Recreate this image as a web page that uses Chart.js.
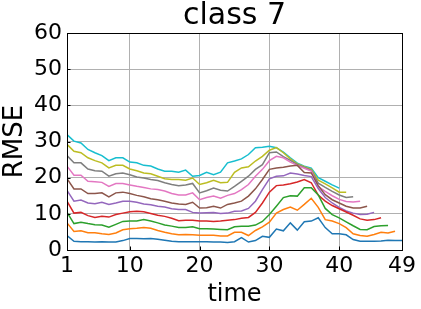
<!DOCTYPE html>
<html>
<head>
<meta charset="utf-8">
<script src="https://cdn.jsdelivr.net/npm/chart.js@4"></script>
<style>
  html, body { margin: 0; padding: 0; background: #fff; }
</style>
</head>
<body>
<canvas id="chart" width="421" height="309"></canvas>
<script>
const xTicks = [1, 10, 20, 30, 40, 49];
const yTicks = [0, 10, 20, 30, 40, 50, 60];

const tab10 = ["#1f77b4", "#ff7f0e", "#2ca02c", "#d62728", "#9467bd",
               "#8c564b", "#e377c2", "#7f7f7f", "#bcbd22", "#17becf"];

// one series per curve, value at time = index + 1
const s0 = [4.0, 2.4, 2.3, 2.3, 2.2, 2.3, 2.2, 2.2, 2.6, 3.2, 3.2, 3.1, 3.2, 3.0, 2.7, 2.4, 2.3, 2.3, 2.3, 2.3,
            2.3, 2.2, 2.2, 2.1, 2.3, 3.4, 2.2, 2.6, 3.8, 3.5, 5.8, 5.3, 7.5, 5.5, 7.8, 8.0, 8.9, 6.2, 4.5, 4.5,
            4.2, 2.9, 2.4, 2.4, 2.4, 2.5, 2.7, 2.6, 2.6];
const s1 = [7.5, 5.1, 5.3, 4.8, 4.8, 4.5, 4.3, 4.7, 5.6, 5.9, 6.0, 6.2, 6.0, 5.4, 4.9, 4.5, 4.2, 4.3, 4.2, 4.1,
            4.1, 4.1, 3.9, 3.9, 4.9, 4.9, 4.0, 5.4, 6.4, 7.7, 10.2, 11.2, 11.9, 11.0, 12.6, 14.3, 11.8, 8.4, 8.0, 7.3,
            6.2, 4.5, 4.0, 3.8, 4.3, 4.9, 4.7, 5.2];
const s2 = [10.4, 7.3, 7.7, 7.3, 7.0, 6.9, 6.3, 7.1, 7.9, 8.0, 8.0, 8.4, 8.0, 7.5, 6.9, 6.6, 6.2, 6.2, 6.4, 5.9,
            5.9, 5.8, 5.7, 5.6, 6.4, 6.6, 6.6, 6.9, 7.9, 9.8, 12.1, 14.5, 15.0, 14.9, 17.2, 17.2, 15.2, 11.5, 9.8, 8.9,
            7.8, 6.7, 5.7, 5.6, 6.5, 6.7, 6.8];
const s3 = [13.5, 10.2, 10.4, 9.5, 9.0, 9.3, 9.1, 9.8, 10.2, 10.6, 10.7, 10.6, 10.1, 9.6, 9.3, 8.8, 8.1, 8.2, 8.2, 8.0,
            8.0, 7.9, 8.0, 8.2, 8.4, 8.8, 9.0, 10.4, 13.0, 16.0, 17.8, 18.0, 18.3, 18.8, 19.5, 18.6, 15.2, 13.5, 12.3, 11.4,
            10.5, 9.6, 8.6, 8.2, 8.4, 8.9];
const s4 = [16.5, 13.5, 13.8, 13.0, 12.8, 13.2, 12.6, 13.0, 13.5, 13.5, 13.2, 12.7, 12.5, 12.1, 11.9, 11.4, 11.2, 11.2, 10.4, 10.2,
            10.3, 10.4, 10.1, 10.2, 10.7, 10.8, 11.5, 13.5, 16.7, 19.7, 20.4, 20.5, 21.3, 21.0, 20.6, 20.3, 17.0, 14.5, 13.0, 11.8,
            10.8, 10.2, 9.8, 9.9, 10.4];
const s5 = [19.7, 16.9, 16.9, 15.6, 15.6, 15.8, 14.7, 15.8, 16.0, 15.6, 15.1, 14.7, 14.2, 13.9, 13.5, 13.0, 12.7, 12.6, 13.2, 11.6,
            11.7, 12.1, 11.6, 12.6, 13.0, 13.5, 14.9, 16.9, 19.5, 22.3, 22.7, 22.9, 23.2, 23.4, 21.4, 21.3, 17.8, 15.3, 13.9, 13.0,
            12.1, 11.6, 11.6, 12.1];
const s6 = [23.2, 20.7, 20.7, 19.0, 18.9, 18.7, 17.6, 18.4, 18.4, 18.0, 17.6, 17.3, 16.9, 16.7, 16.3, 15.6, 15.2, 15.2, 15.8, 13.9,
            14.5, 14.9, 14.3, 15.1, 15.6, 16.7, 18.1, 20.4, 22.3, 24.7, 25.9, 25.5, 24.3, 23.4, 22.6, 21.8, 17.5, 16.2, 15.0, 14.0,
            13.4, 13.3, 13.5];
const s7 = [26.1, 24.1, 24.1, 22.4, 21.9, 21.8, 20.4, 21.1, 21.3, 20.8, 20.2, 19.9, 19.5, 19.2, 18.6, 18.1, 17.8, 18.0, 18.4, 15.8,
            16.4, 17.1, 16.5, 16.3, 17.6, 19.0, 20.4, 22.3, 23.6, 26.9, 27.1, 25.8, 24.8, 23.6, 22.8, 22.0, 18.5, 17.3, 16.2, 15.2,
            14.5, 14.7];
const s8 = [29.2, 27.3, 26.9, 25.5, 24.7, 24.1, 22.7, 23.4, 23.4, 22.4, 21.9, 21.3, 21.1, 20.4, 19.7, 19.5, 19.5, 19.3, 19.9, 18.1,
            18.6, 19.3, 18.6, 18.7, 21.5, 22.7, 23.0, 24.6, 25.9, 27.6, 28.3, 26.9, 25.2, 23.8, 23.0, 22.3, 19.3, 18.3, 17.2, 16.0,
            16.0];
const s9 = [31.9, 30.1, 29.6, 27.8, 26.9, 26.1, 24.7, 25.5, 25.5, 24.3, 24.1, 23.4, 23.2, 22.4, 21.8, 21.8, 21.5, 22.1, 20.4, 20.6,
            21.5, 20.8, 21.5, 24.1, 24.6, 25.2, 26.4, 28.3, 28.4, 28.7, 28.3, 27.1, 25.5, 24.0, 23.2, 22.6, 20.0, 19.0, 18.0, 17.1];

const series = [s0, s1, s2, s3, s4, s5, s6, s7, s8, s9];

const FONT = "'DejaVu Sans', sans-serif";

const framePlugin = {
    id: "frame",
    afterDatasetsDraw(chart) {
        const { ctx, chartArea: a, scales } = chart;
        ctx.save();
        ctx.strokeStyle = "#000";
        ctx.lineWidth = 1;
        // inward ticks on left and bottom
        ctx.beginPath();
        yTicks.forEach((v) => {
            const y = Math.round(scales.y.getPixelForValue(v)) + 0.5;
            ctx.moveTo(a.left, y);
            ctx.lineTo(a.left + 3.5, y);
        });
        xTicks.forEach((v) => {
            const x = Math.round(scales.x.getPixelForValue(v)) + 0.5;
            ctx.moveTo(x, a.bottom);
            ctx.lineTo(x, a.bottom - 3.5);
        });
        ctx.stroke();
        ctx.strokeRect(Math.round(a.left) + 0.5, Math.round(a.top) + 0.5,
                       Math.round(a.right - a.left), Math.round(a.bottom - a.top));
        ctx.restore();
    },
};

new Chart(document.getElementById("chart").getContext("2d"), {
    type: "line",
    data: {
        datasets: series.map((vals, i) => ({
            data: vals.map((v, j) => ({ x: j + 1, y: v })),
            borderColor: tab10[i],
            borderWidth: 1.5,
            pointRadius: 0,
            fill: false,
            tension: 0,
        })),
    },
    options: {
        responsive: false,
        animation: false,
        devicePixelRatio: 1,
        layout: { padding: { top: 0, right: 19, bottom: 0, left: 0 } },
        plugins: {
            legend: { display: false },
            tooltip: { enabled: false },
            title: {
                display: true,
                fullSize: false,
                text: "class 7",
                color: "#000",
                font: { family: FONT, size: 30, weight: "normal", lineHeight: 1.1 },
                padding: { top: 0, bottom: 0 },
            },
        },
        scales: {
            x: {
                type: "linear",
                min: 1,
                max: 49,
                afterBuildTicks: (s) => { s.ticks = xTicks.map((v) => ({ value: v })); },
                afterFit: (s) => { s.height = 59; },
                grid: { color: "#b0b0b0", lineWidth: 1, drawTicks: false },
                border: { display: false },
                ticks: {
                    color: "#000",
                    padding: 3,
                    maxRotation: 0,
                    autoSkip: false,
                    font: { family: FONT, size: 22 },
                },
                title: {
                    display: true,
                    text: "time",
                    color: "#000",
                    font: { family: FONT, size: 24, lineHeight: 1.2 },
                    padding: { top: 0, bottom: 0 },
                },
            },
            y: {
                min: 0,
                max: 60,
                afterBuildTicks: (s) => { s.ticks = yTicks.map((v) => ({ value: v })); },
                afterFit: (s) => { s.width = 67; },
                grid: { color: "#b0b0b0", lineWidth: 1, drawTicks: false },
                border: { display: false },
                ticks: {
                    color: "#000",
                    padding: 5,
                    font: { family: FONT, size: 22 },
                },
                title: {
                    display: true,
                    text: "RMSE",
                    color: "#000",
                    font: { family: FONT, size: 26, lineHeight: 1.2 },
                    padding: { top: 0, bottom: 0 },
                },
            },
        },
    },
    plugins: [framePlugin],
});
</script>
</body>
</html>
